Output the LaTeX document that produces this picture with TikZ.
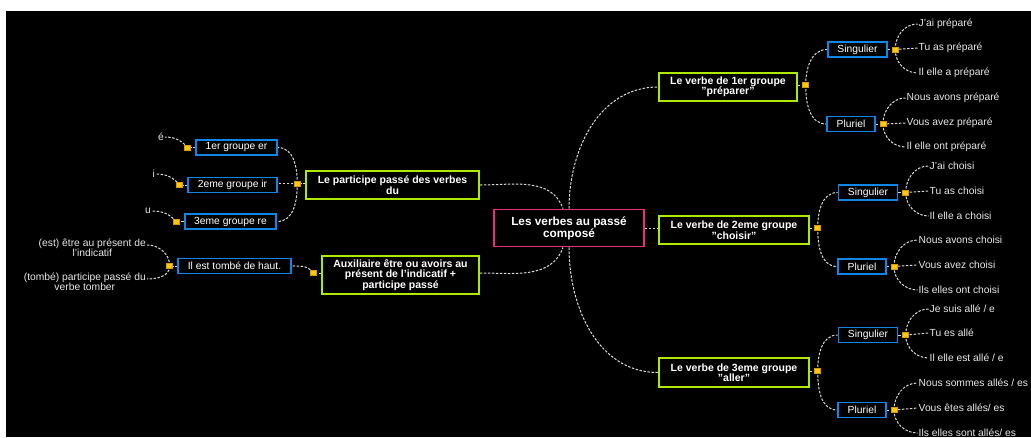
\documentclass[tikz,border=0pt]{standalone}
\usepackage{fontspec}
\setmainfont{Liberation Sans}
\usetikzlibrary{positioning, backgrounds}
\definecolor{rootborder}{HTML}{E8307A}
\definecolor{branchborder}{HTML}{AEEA00}
\definecolor{subborder}{HTML}{1286E6}
\definecolor{knobfill}{HTML}{FFC815}
\definecolor{knobborder}{HTML}{D99A00}
\definecolor{linkgray}{HTML}{DADADA}
\definecolor{leaftext}{HTML}{E8E8E8}
\tikzset{
    rootbox/.style={
        draw=rootborder, fill=black, line width=1.8pt,
        minimum width=150pt, minimum height=37pt, inner sep=2pt,
        font=\fontsize{11.8}{11}\selectfont\bfseries, text=white, align=center,
    },
    branchbox/.style={
        draw=branchborder, fill=black, line width=1.9pt,
        minimum width=#1, minimum height=28pt, inner sep=2pt,
        font=\fontsize{10.5}{10.5}\selectfont\bfseries, text=white, align=center,
    },
    subbox/.style={
        draw=subborder, fill=black, line width=1.8pt,
        minimum height=15pt, inner xsep=9.5pt, inner ysep=1pt,
        font=\fontsize{10.3}{11}\selectfont, text=white,
    },
    leaf/.style={
        font=\fontsize{10.3}{10}\selectfont, text=leaftext, inner sep=1pt,
    },
    knob/.style={
        draw=knobborder, fill=knobfill, line width=0.5pt,
        minimum width=6pt, minimum height=5pt, inner sep=0pt,
    },
    link/.style={
        draw=linkgray, line width=1pt, dash pattern=on 2.5pt off 1.5pt,
    },
}

\begin{document}
\begin{tikzpicture}[x=1pt, y=1pt]

\useasboundingbox (0,0) rectangle (1031,-437);
\begin{scope}[on background layer]
\fill[white] (0,0) rectangle (1031,-437);
\fill[black] (6,-11) rectangle (1031,-437);
\end{scope}

% ── Centre and main branches ─────────────────────────────────
\node[rootbox] (root) at (569,-228) {Les verbes au passé\\composé};
\node[branchbox=173pt] (partdu) at (392.5,-185) {Le participe passé des verbes\\du};
\node[branchbox=157pt, minimum height=38pt] (auxil) at (400.5,-275) {Auxiliaire être ou avoirs au\\présent de l'indicatif +\\participe passé};
\node[branchbox=138pt] (verbeA) at (728,-87) {Le verbe de 1er groupe\\"préparer"};
\node[branchbox=150pt] (verbeB) at (734,-230) {Le verbe de 2eme groupe\\"choisir"};
\node[branchbox=150pt, minimum height=29pt] (verbeC) at (734,-372.5) {Le verbe de 3eme groupe\\"aller"};

\node[knob, left=4.5pt of partdu, yshift=1.5pt] (knobPart) {};
\node[knob, left=5pt of auxil, yshift=2pt] (knobAux) {};
\node[knob, right=4.5pt of verbeA, yshift=2pt] (knobA) {};
\node[knob, right=4.5pt of verbeB, yshift=2pt] (knobB) {};
\node[knob, right=4.5pt of verbeC, yshift=1.5pt] (knobC) {};

% ── Left side: participe passé ───────────────────────────────
\node[subbox] (grpEr) at (236.5,-147.5) {1er groupe er};
\node[subbox] (grpIr) at (232.5,-185) {2eme groupe ir};
\node[subbox] (grpRe) at (230.5,-221.5) {3eme groupe re};
\node[knob, left=4.5pt of grpEr] (knobEr) {};
\node[knob, left=4.5pt of grpIr] (knobIr) {};
\node[knob, left=4.5pt of grpRe] (knobRe) {};
\node[leaf, anchor=east] (leafE) at (165,-137) {é};
\node[leaf, anchor=east] (leafI) at (156,-174) {i};
\node[leaf, anchor=east] (leafU) at (152,-211) {u};

% ── Left side: auxiliaire ────────────────────────────────────
\node[subbox] (tombe) at (234.5,-266) {Il est tombé de haut.};
\node[knob, left=4.5pt of tombe] (knobTombe) {};
\node[leaf, anchor=east, align=center] (leafEst) at (147,-248) {(est) être au présent de\\l'indicatif};
\node[leaf, anchor=east, align=center] (leafPart) at (147,-282) {(tombé) participe passé du\\verbe tomber};

% ── Right side: préparer ─────────────────────────────────────
\node[subbox] (singA) at (857.5,-49.5) {Singulier};
\node[subbox] (plurA) at (851,-124) {Pluriel};
\node[knob, right=4pt of singA] (knobSA) {};
\node[knob, right=4pt of plurA] (knobPA) {};
\node[leaf, anchor=west] (jaiA) at (917.5,-24) {J'ai préparé};
\node[leaf, anchor=west] (tuA) at (917.5,-48) {Tu as préparé};
\node[leaf, anchor=west] (ilA) at (917.5,-73) {Il elle a préparé};
\node[leaf, anchor=west] (nousA) at (905.5,-98) {Nous avons préparé};
\node[leaf, anchor=west] (vousA) at (905.5,-123) {Vous avez préparé};
\node[leaf, anchor=west] (ilsA) at (905.5,-147) {Il elle ont préparé};

% ── Right side: choisir ──────────────────────────────────────
\node[subbox] (singB) at (868,-192.5) {Singulier};
\node[subbox] (plurB) at (862,-266.5) {Pluriel};
\node[knob, right=4pt of singB] (knobSB) {};
\node[knob, right=4pt of plurB] (knobPB) {};
\node[leaf, anchor=west] (jaiB) at (928.5,-166) {J'ai choisi};
\node[leaf, anchor=west] (tuB) at (928.5,-191) {Tu as choisi};
\node[leaf, anchor=west] (ilB) at (928.5,-216) {Il elle a choisi};
\node[leaf, anchor=west] (nousB) at (917.5,-240) {Nous avons choisi};
\node[leaf, anchor=west] (vousB) at (917.5,-265) {Vous avez choisi};
\node[leaf, anchor=west] (ilsB) at (917.5,-290) {Ils elles ont choisi};

% ── Right side: aller ────────────────────────────────────────
\node[subbox] (singC) at (868,-335) {Singulier};
\node[subbox] (plurC) at (862,-410) {Pluriel};
\node[knob, right=4pt of singC] (knobSC) {};
\node[knob, right=4pt of plurC] (knobPC) {};
\node[leaf, anchor=west] (jeC) at (928.5,-309) {Je suis allé / e};
\node[leaf, anchor=west] (tuC) at (928.5,-333) {Tu es allé};
\node[leaf, anchor=west] (ilC) at (928.5,-358) {Il elle est allé / e};
\node[leaf, anchor=west] (nousC) at (917.5,-383) {Nous sommes allés / es};
\node[leaf, anchor=west] (vousC) at (917.5,-408) {Vous êtes allés/ es};
\node[leaf, anchor=west] (ilsC) at (917.5,-433) {Ils elles sont allés/ es};

% ── Connectors (behind the boxes) ────────────────────────────
\begin{scope}[on background layer]
% centre to branches
\draw[link] (root.north) to[out=90, in=180] (verbeA.west);
\draw[link] (root.east) -- (verbeB.west |- root.east);
\draw[link] (root.south) to[out=-90, in=180] (verbeC.west);
\draw[link] (partdu.east) to[out=0, in=110] ([xshift=-6pt]root.north);
\draw[link] (auxil.east |- knobAux) to[out=0, in=-110] ([xshift=-6pt]root.south);

% boxes to their knobs
\draw[link] (partdu.west |- knobPart) -- (knobPart);
\draw[link] (auxil.west |- knobAux) -- (knobAux);
\draw[link] (verbeA.east |- knobA) -- (knobA);
\draw[link] (verbeB.east |- knobB) -- (knobB);
\draw[link] (verbeC.east |- knobC) -- (knobC);
\draw[link] (grpEr.west) -- (knobEr);
\draw[link] (grpIr.west) -- (knobIr);
\draw[link] (grpRe.west) -- (knobRe);
\draw[link] (tombe.west) -- (knobTombe);
\draw[link] (singA.east) -- (knobSA);
\draw[link] (plurA.east) -- (knobPA);
\draw[link] (singB.east) -- (knobSB);
\draw[link] (plurB.east) -- (knobPB);
\draw[link] (singC.east) -- (knobSC);
\draw[link] (plurC.east) -- (knobPC);

% left side
\draw[link] (knobPart.center) to[out=90, in=0] (grpEr.east);
\draw[link] (knobPart.center) -- (grpIr.east |- knobPart);
\draw[link] (knobPart.center) to[out=-90, in=0] (grpRe.east);
\draw[link] (knobEr.center) to[out=130, in=0] (leafE.east);
\draw[link] (knobIr.center) to[out=130, in=0] (leafI.east);
\draw[link] (knobRe.center) to[out=130, in=0] (leafU.east);
\draw[link] (knobAux.center) to[out=120, in=0] (tombe.east);
\draw[link] (knobTombe.center) to[out=90, in=0] ([yshift=3pt]leafEst.east);
\draw[link] (knobTombe.center) to[out=-90, in=0] ([yshift=3pt]leafPart.east);

% right side
\draw[link] (knobA.center) to[out=90, in=180] (singA.west);
\draw[link] (knobA.center) to[out=-90, in=180] (plurA.west);
\draw[link] (knobB.center) to[out=90, in=180] (singB.west);
\draw[link] (knobB.center) to[out=-90, in=180] (plurB.west);
\draw[link] (knobC.center) to[out=90, in=180] (singC.west);
\draw[link] (knobC.center) to[out=-90, in=180] (plurC.west);

\draw[link] (knobSA.center) to[out=90, in=180] (jaiA.west);
\draw[link] (knobSA.center) -- (tuA.west);
\draw[link] (knobSA.center) to[out=-90, in=180] (ilA.west);
\draw[link] (knobPA.center) to[out=90, in=180] (nousA.west);
\draw[link] (knobPA.center) -- (vousA.west);
\draw[link] (knobPA.center) to[out=-90, in=180] (ilsA.west);

\draw[link] (knobSB.center) to[out=90, in=180] (jaiB.west);
\draw[link] (knobSB.center) -- (tuB.west);
\draw[link] (knobSB.center) to[out=-90, in=180] (ilB.west);
\draw[link] (knobPB.center) to[out=90, in=180] (nousB.west);
\draw[link] (knobPB.center) -- (vousB.west);
\draw[link] (knobPB.center) to[out=-90, in=180] (ilsB.west);

\draw[link] (knobSC.center) to[out=90, in=180] (jeC.west);
\draw[link] (knobSC.center) -- (tuC.west);
\draw[link] (knobSC.center) to[out=-90, in=180] (ilC.west);
\draw[link] (knobPC.center) to[out=90, in=180] (nousC.west);
\draw[link] (knobPC.center) -- (vousC.west);
\draw[link] (knobPC.center) to[out=-90, in=180] (ilsC.west);
\end{scope}

\end{tikzpicture}
\end{document}
